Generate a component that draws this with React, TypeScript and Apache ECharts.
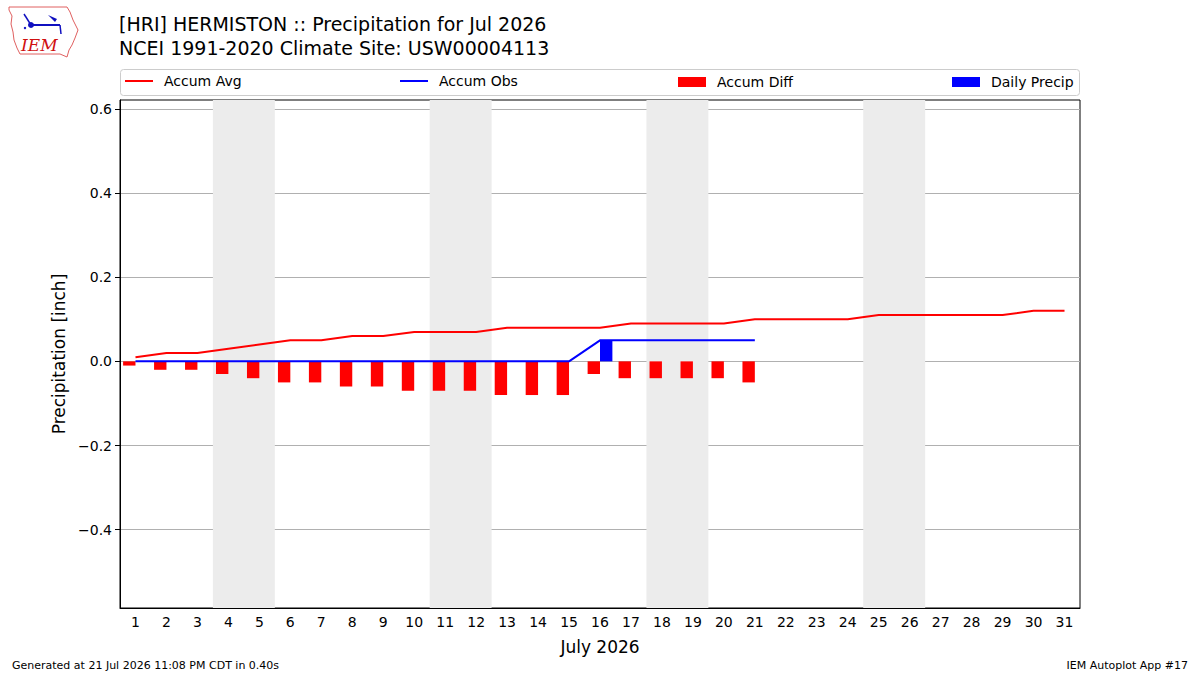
import React, { useEffect, useRef } from "react";
import * as echarts from "echarts";

const days = ["1","2","3","4","5","6","7","8","9","10","11","12","13","14","15","16","17","18","19","20","21","22","23","24","25","26","27","28","29","30","31"];
const accumAvg = [0.01,0.02,0.02,0.03,0.04,0.05,0.05,0.06,0.06,0.07,0.07,0.07,0.08,0.08,0.08,0.08,0.09,0.09,0.09,0.09,0.10,0.10,0.10,0.10,0.11,0.11,0.11,0.11,0.11,0.12,0.12];
const accumObs = [0,0,0,0,0,0,0,0,0,0,0,0,0,0,0,0.05,0.05,0.05,0.05,0.05,0.05];
const accumDiff = [-0.01,-0.02,-0.02,-0.03,-0.04,-0.05,-0.05,-0.06,-0.06,-0.07,-0.07,-0.07,-0.08,-0.08,-0.08,-0.03,-0.04,-0.04,-0.04,-0.04,-0.05];
const dailyPrecip = [0,0,0,0,0,0,0,0,0,0,0,0,0,0,0,0.05,0,0,0,0,0];
const weekendStarts = [4, 11, 18, 25];
const yTicks = [-0.4, -0.2, 0.0, 0.2, 0.4, 0.6];

const FONT = "DejaVu Sans";

export default function App() {
  const ref = useRef<HTMLDivElement>(null);
  useEffect(() => {
    if (!ref.current) return;
    const chart = echarts.init(ref.current, null, { renderer: "svg" });
    const fmt = (v: number) => v.toFixed(1).replace("-", "\u2212");
    const legendItem = (name: string, left: number, isBar: boolean) => ({
      data: [name],
      left,
      top: isBar ? 75 : 74,
      padding: 0,
      icon: "rect",
      itemWidth: 28,
      itemHeight: isBar ? 10 : 2,
      selectedMode: false,
      textStyle: { fontFamily: FONT, fontSize: 14, color: "#000", padding: [0, 0, 0, 6] },
    });
    chart.setOption({
      animation: false,
      backgroundColor: "#fff",
      textStyle: { fontFamily: FONT },
      title: {
        text: "[HRI] HERMISTON :: Precipitation for Jul 2026\nNCEI 1991-2020 Climate Site: USW00004113",
        left: 119,
        top: 12,
        padding: 0,
        textStyle: { fontFamily: FONT, fontSize: 19, fontWeight: "normal", color: "#000", lineHeight: 24 },
      },
      legend: [
        legendItem("Accum Avg", 125, false),
        legendItem("Accum Obs", 400, false),
        legendItem("Accum Diff", 678, true),
        legendItem("Daily Precip", 952, true),
      ],
      grid: { left: 120, right: 120, top: 100, bottom: 67, show: true, borderColor: "#000", borderWidth: 1, backgroundColor: "transparent" },
      xAxis: [
        {
          type: "category",
          data: days,
          boundaryGap: true,
          name: "July 2026",
          nameLocation: "middle",
          nameGap: 30,
          nameTextStyle: { fontFamily: FONT, fontSize: 17, color: "#000" },
          axisLine: { onZero: false, lineStyle: { color: "#000" } },
          axisTick: { alignWithLabel: true, length: 5, lineStyle: { color: "#000" } },
          axisLabel: { fontFamily: FONT, fontSize: 14, color: "#000", margin: 7, interval: 0 },
          splitLine: { show: false },
        },
        { type: "value", min: 0.5, max: 31.5, show: false },
      ],
      yAxis: {
        type: "value",
        min: -0.586,
        max: 0.621,
        name: "Precipitation [inch]",
        nameLocation: "middle",
        nameGap: 47,
        nameTextStyle: { fontFamily: FONT, fontSize: 17, color: "#000" },
        axisLine: { show: true, lineStyle: { color: "#000" } },
        axisTick: { show: true, length: 5, lineStyle: { color: "#000" }, customValues: yTicks },
        axisLabel: { fontFamily: FONT, fontSize: 14, color: "#000", margin: 8, formatter: fmt, customValues: yTicks },
        splitLine: { show: true, lineStyle: { color: "#b0b0b0", width: 1 } },
      },
      series: [
        {
          name: "weekends",
          type: "line",
          xAxisIndex: 1,
          data: [],
          silent: true,
          z: 0,
          markArea: {
            silent: true,
            itemStyle: { color: "#ececec" },
            data: weekendStarts.map((d) => [{ xAxis: d - 0.5 }, { xAxis: d + 1.5 }]),
          },
        },
        {
          name: "Accum Diff",
          type: "bar",
          data: accumDiff,
          barWidth: "40%",
          barGap: "0%",
          itemStyle: { color: "#ff0000" },
          z: 2,
        },
        {
          name: "Daily Precip",
          type: "bar",
          data: dailyPrecip,
          barWidth: "40%",
          barGap: "0%",
          itemStyle: { color: "#0000ff" },
          z: 2,
        },
        {
          name: "Accum Avg",
          type: "line",
          data: accumAvg,
          symbol: "none",
          lineStyle: { color: "#ff0000", width: 2 },
          itemStyle: { color: "#ff0000" },
          z: 3,
        },
        {
          name: "Accum Obs",
          type: "line",
          data: accumObs,
          symbol: "none",
          lineStyle: { color: "#0000ff", width: 2 },
          itemStyle: { color: "#0000ff" },
          z: 3,
        },
      ],
      graphic: [
        {
          type: "rect",
          shape: { x: 120.5, y: 69.5, width: 959, height: 26, r: 3 },
          style: { fill: "none", stroke: "#cccccc", lineWidth: 1 },
          z: -1,
        },
        {
          type: "polygon",
          shape: { points: [[9,7],[67,7],[70,12],[73,20],[78,30],[75,38],[72,45],[69,50],[67,57],[60,54],[20,54],[17,48],[14,40],[13,32],[11,24],[12,16],[9,10]] },
          style: { fill: "#fff", stroke: "#e06060", lineWidth: 1 },
        },
        {
          type: "text",
          style: { text: "IEM", x: 21, y: 36, font: "italic 17px 'DejaVu Serif'", fill: "#d01010" },
        },
        { type: "line", shape: { x1: 31, y1: 25, x2: 60, y2: 25 }, style: { stroke: "#1010c0", lineWidth: 2 } },
        { type: "circle", shape: { cx: 31, cy: 25, r: 3 }, style: { fill: "#1010c0" } },
        { type: "line", shape: { x1: 31, y1: 25, x2: 24, y2: 14 }, style: { stroke: "#1010c0", lineWidth: 1.5 } },
        { type: "polygon", shape: { points: [[48,15],[57,19],[55,22]] }, style: { fill: "#1010c0" } },
        { type: "line", shape: { x1: 60, y1: 25, x2: 61, y2: 34 }, style: { stroke: "#1010c0", lineWidth: 1.5 } },
        { type: "circle", shape: { cx: 25, cy: 28, r: 1.2 }, style: { fill: "#1010c0" } },
        {
          type: "text",
          style: { text: "Generated at 21 Jul 2026 11:08 PM CDT in 0.40s", x: 12, y: 665, font: "11px 'DejaVu Sans'", fill: "#000", textVerticalAlign: "middle" },
        },
        {
          type: "text",
          style: { text: "IEM Autoplot App #17", x: 1188, y: 665, font: "11px 'DejaVu Sans'", fill: "#000", textAlign: "right", textVerticalAlign: "middle" },
        },
      ],
    });
    return () => chart.dispose();
  }, []);
  return <div ref={ref} style={{ width: 1200, height: 675, position: "absolute", left: 0, top: 0 }} />;
}
